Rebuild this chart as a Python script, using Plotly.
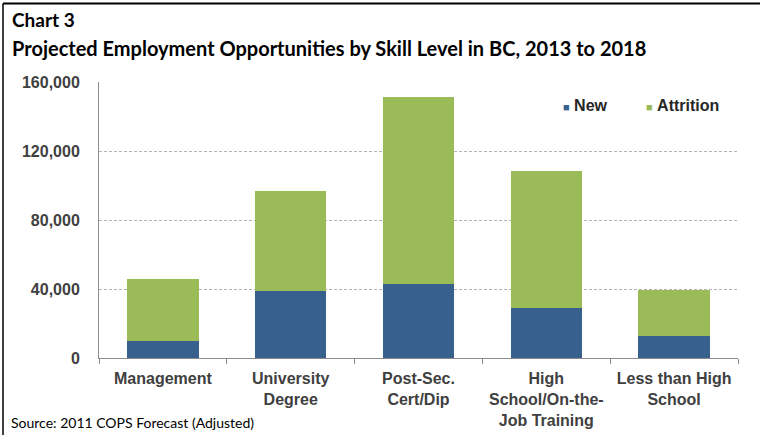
import plotly.graph_objects as go

# Skill levels (category axis labels, with line breaks)
categories = [
    "Management",
    "University<br>Degree",
    "Post-Sec.<br>Cert/Dip",
    "High<br>School/On-the-<br>Job Training",
    "Less than High<br>School",
]

# Projected job openings, 2013 to 2018
new_jobs = [10000, 38700, 43100, 29200, 13000]
attrition = [36000, 58100, 108200, 79400, 26700]

y_ticks = [0, 40000, 80000, 120000, 160000]
y_tick_labels = ["0", "40,000", "80,000", "120,000", "160,000"]

BLUE = "#37608f"
GREEN = "#9bbb59"
AXIS_GREY = "#8c8c8c"
TEXT_DARK = "#404040"
SANS = "Liberation Sans, Arial, sans-serif"
TITLE_FONT = "Lato, Open Sans, sans-serif"

fig = go.Figure()
fig.add_trace(go.Bar(x=categories, y=new_jobs, name="New", marker_color=BLUE,
                     marker_line_width=0))
fig.add_trace(go.Bar(x=categories, y=attrition, name="Attrition", marker_color=GREEN,
                     marker_line_width=0))

W, H = 760, 435
L, R, T, B = 99, 22, 82, 77
px_w, px_h = W - L - R, H - T - B


def px_x(x):
    """Figure pixel column -> paper x."""
    return (x - L) / px_w


def px_y(y):
    """Figure pixel row -> paper y."""
    return (H - B - y) / px_h


fig.update_layout(
    width=W, height=H,
    barmode="stack",
    bargap=0.44,
    paper_bgcolor="white",
    plot_bgcolor="white",
    margin=dict(l=L, r=R, t=T, b=B, autoexpand=False),
    showlegend=False,
    xaxis=dict(
        showline=True, linecolor=AXIS_GREY, linewidth=1,
        ticks="outside", tickson="boundaries", ticklen=5, tickcolor=AXIS_GREY,
        tickfont=dict(family=SANS, size=16, color=TEXT_DARK, weight="bold"),
        ticklabelstandoff=6,
        showgrid=False,
        tickangle=0,
    ),
    yaxis=dict(
        range=[0, 160000],
        tickvals=y_ticks, ticktext=y_tick_labels,
        tickfont=dict(family=SANS, size=16, color=TEXT_DARK, weight="bold"),
        showgrid=True, gridcolor="#b4b4b4", griddash="3px,2px", gridwidth=1,
        showline=True, linecolor=AXIS_GREY, linewidth=1,
        zeroline=False,
        ticks="", ticklabelstandoff=15,
    ),
    font=dict(family=SANS, color=TEXT_DARK),
)

# Legend entries
legend_items = [("New", BLUE, 561), ("Attrition", GREEN, 644)]
for label, color, x0 in legend_items:
    fig.add_annotation(
        text=f"<span style='color:{color};font-size:11px'>■</span> <b>{label}</b>",
        xref="paper", yref="paper", x=px_x(x0), y=px_y(105),
        xanchor="left", yanchor="middle", showarrow=False,
        font=dict(family=SANS, size=16, color="#262626"))

# Titles and source note
fig.add_annotation(text="<b>Chart 3</b>", xref="paper", yref="paper",
                   x=px_x(10), y=px_y(6), xanchor="left", yanchor="top", showarrow=False,
                   font=dict(family=TITLE_FONT, size=19, color="#000000"))
fig.add_annotation(text="<b>Projected Employment Opportunities by Skill Level in BC, 2013 to 2018</b>",
                   xref="paper", yref="paper", x=px_x(10), y=px_y(34),
                   xanchor="left", yanchor="top", showarrow=False,
                   font=dict(family=TITLE_FONT, size=20, color="#000000"))
fig.add_annotation(text="Source: 2011 COPS Forecast (Adjusted)", xref="paper", yref="paper",
                   x=px_x(9), y=px_y(433), xanchor="left", yanchor="bottom", showarrow=False,
                   font=dict(family=TITLE_FONT, size=14, color="#000000"))

# Frame lines along the top and left edges of the figure
fig.add_shape(type="line", xref="paper", yref="paper", x0=px_x(3), x1=px_x(W),
              y0=px_y(3.5), y1=px_y(3.5), line=dict(color="#000000", width=2))
fig.add_shape(type="line", xref="paper", yref="paper", x0=px_x(3), x1=px_x(3),
              y0=px_y(3.5), y1=px_y(H), line=dict(color="#000000", width=1.5))

fig.write_html("out.html")
